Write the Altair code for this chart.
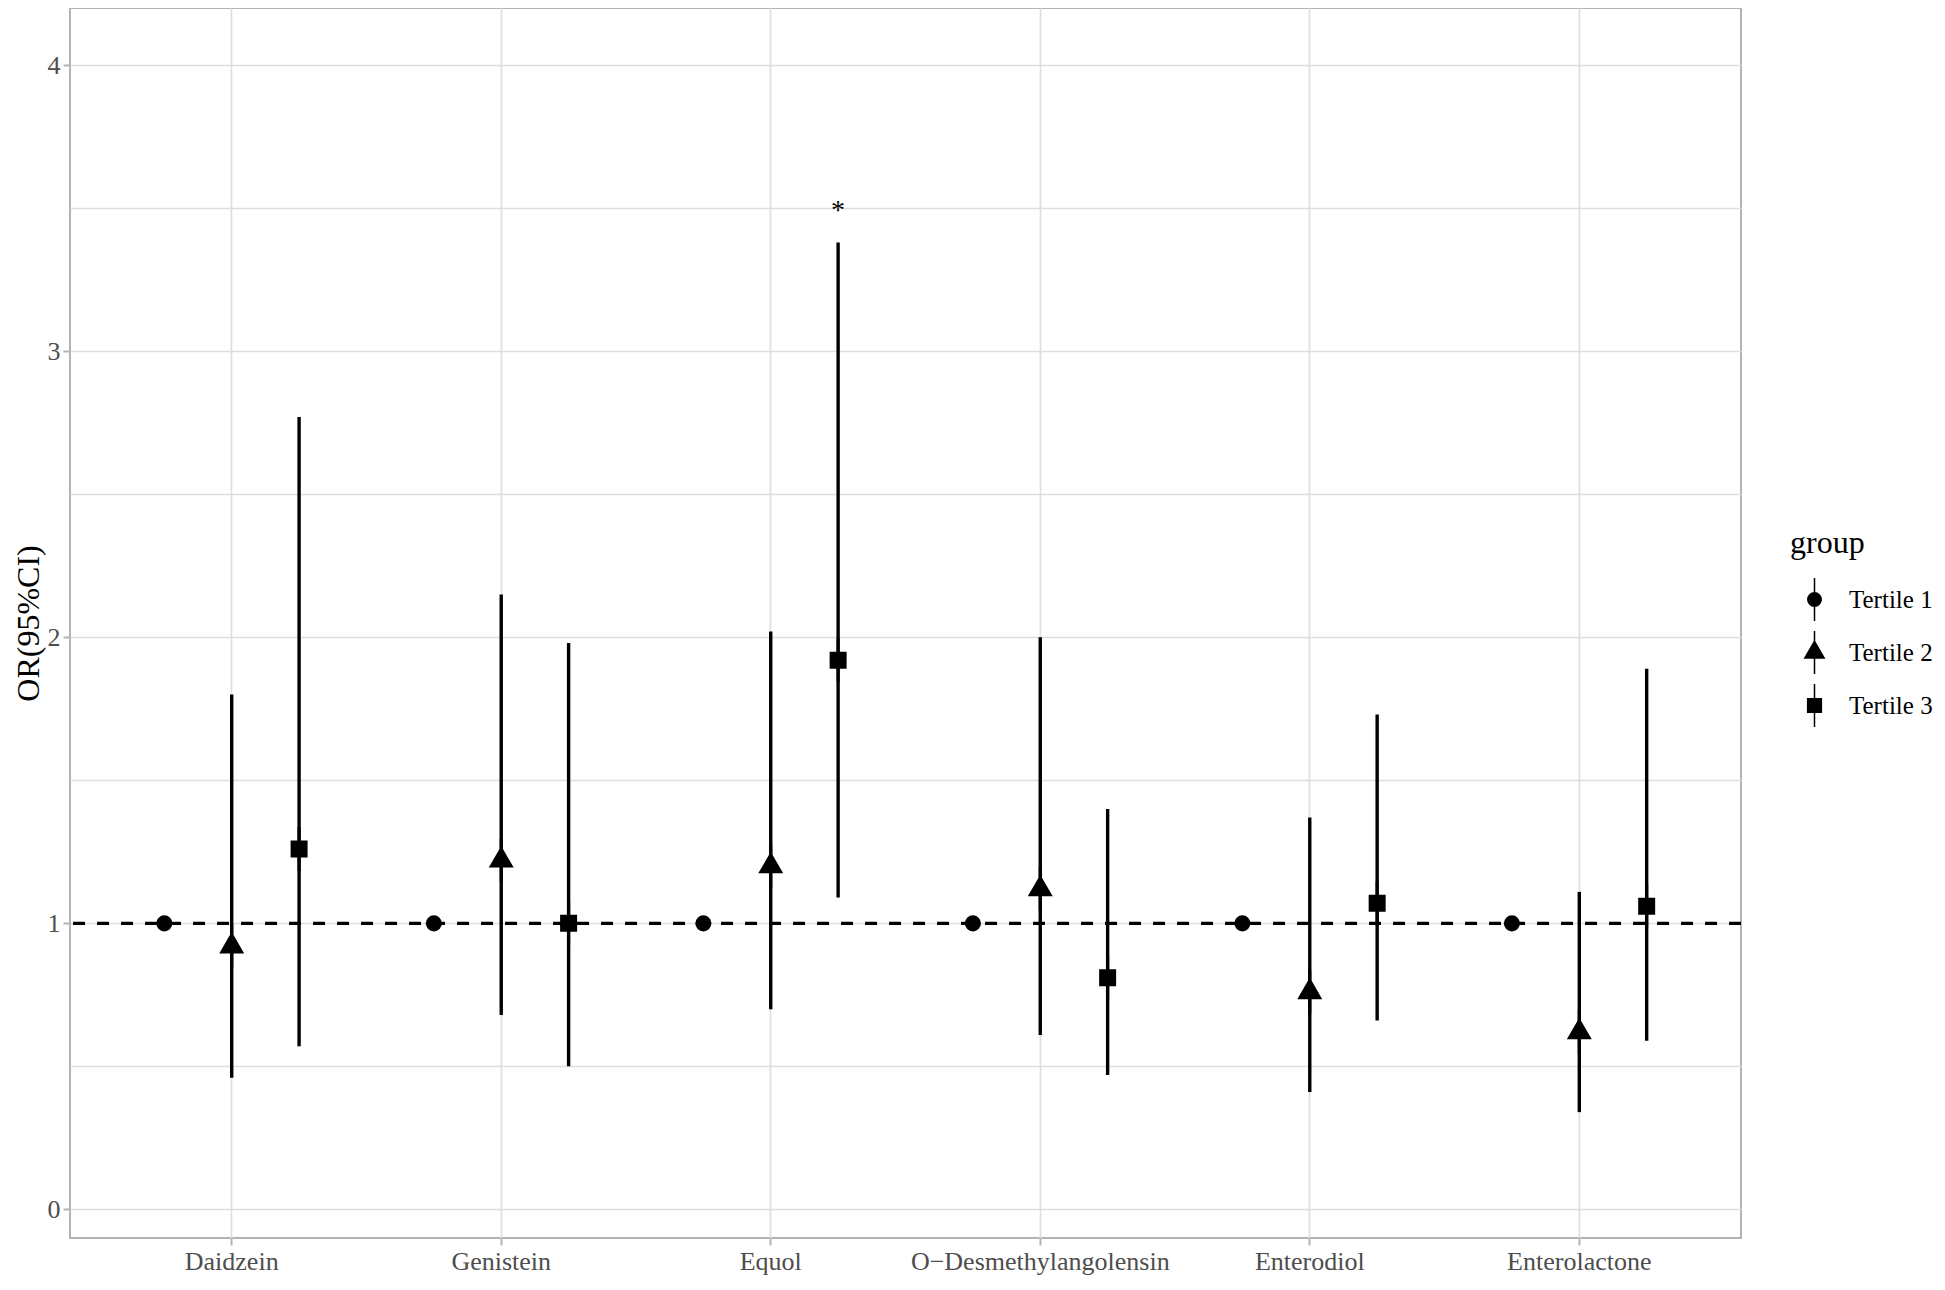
import altair as alt
import pandas as pd

# ---- data ----
compounds = ["Daidzein", "Genistein", "Equol", "O\u2212Desmethylangolensin", "Enterodiol", "Enterolactone"]
groups = ["Tertile 1", "Tertile 2", "Tertile 3"]

t1_or = [1.0, 1.0, 1.0, 1.0, 1.0, 1.0]

t2_or = [0.92, 1.22, 1.20, 1.12, 0.76, 0.62]
t2_lo = [0.46, 0.68, 0.70, 0.61, 0.41, 0.34]
t2_hi = [1.80, 2.15, 2.02, 2.00, 1.37, 1.11]

t3_or = [1.26, 1.00, 1.92, 0.81, 1.07, 1.06]
t3_lo = [0.57, 0.50, 1.09, 0.47, 0.66, 0.59]
t3_hi = [2.77, 1.98, 3.38, 1.40, 1.73, 1.89]

ref_line = [1.0]

annot_compound = ["Equol"]
annot_group = ["Tertile 3"]
annot_y = [3.49]
annot_text = ["*"]

y_ticks = [0, 0.5, 1, 1.5, 2, 2.5, 3, 3.5, 4]

# ---- tables ----
rows = []
for i, c in enumerate(compounds):
    rows.append(dict(compound=c, group=groups[0], OR=t1_or[i], lo=None, hi=None))
    rows.append(dict(compound=c, group=groups[1], OR=t2_or[i], lo=t2_lo[i], hi=t2_hi[i]))
    rows.append(dict(compound=c, group=groups[2], OR=t3_or[i], lo=t3_lo[i], hi=t3_hi[i]))
df = pd.DataFrame(rows)
df_ref = pd.DataFrame({"ref": ref_line})
df_ann = pd.DataFrame({"compound": annot_compound, "group": annot_group,
                       "y": annot_y, "txt": annot_text})

FONT = "Liberation Serif"

# pointrange-like symbols (shape + vertical stroke), used for T2/T3 and the legend
vline = " M 0 -3.2 L 0 3.2"
circle_path = "M -1 0 A 1 1 0 1 1 1 0 A 1 1 0 1 1 -1 0 Z" + vline
tri_path = "M 0 -1.66 L 1.44 0.83 L -1.44 0.83 Z" + vline
sq_path = "M -1.02 -1.02 L 1.02 -1.02 L 1.02 1.02 L -1.02 1.02 Z" + vline

x_enc = alt.X("compound:N", sort=compounds,
              scale=alt.Scale(type="band", domain=compounds, paddingInner=0, paddingOuter=0.1),
              axis=alt.Axis(title=None, grid=True, labelAngle=0, labelPadding=3, labelLimit=500))
xoff_enc = alt.XOffset("group:N", scale=alt.Scale(type="point", domain=groups, padding=2))
y_scale = alt.Scale(domain=[-0.1, 4.2], nice=False, zero=False)
y_axis = alt.Axis(title="OR(95%CI)", values=y_ticks, grid=True,
                  labelExpr="datum.value % 1 ? '' : format(datum.value, 'd')",
                  tickOpacity={"condition": {"test": "datum.value % 1 !== 0", "value": 0}, "value": 1},
                  labelPadding=3, titlePadding=2)

base = alt.Chart(df)

hline = alt.Chart(df_ref).mark_rule(color="black", strokeWidth=3.3, strokeDash=[12, 12]).encode(
    y=alt.Y("ref:Q", scale=y_scale, axis=y_axis)
)

bars = base.transform_filter("datum.lo != null").mark_rule(color="black", strokeWidth=3.4).encode(
    x=x_enc, xOffset=xoff_enc,
    y=alt.Y("lo:Q", scale=y_scale, axis=y_axis), y2="hi:Q"
)

pts = base.transform_filter("datum.lo != null").mark_point(
    filled=True, color="black", stroke="black", strokeWidth=3, opacity=1, size=188
).encode(
    x=x_enc, xOffset=xoff_enc,
    y=alt.Y("OR:Q", scale=y_scale, axis=y_axis),
    shape=alt.Shape("group:N", scale=alt.Scale(domain=groups, range=[circle_path, tri_path, sq_path]),
                    legend=alt.Legend(title="group", orient="none", legendX=1720, legendY=520,
                                      symbolSize=180, symbolOffset=12, labelOffset=22,
                                      titlePadding=27, rowPadding=4))
)

ref_pts = base.transform_filter("datum.lo == null").mark_point(
    filled=True, color="black", shape="circle", size=260, opacity=1
).encode(
    x=x_enc, xOffset=xoff_enc,
    y=alt.Y("OR:Q", scale=y_scale, axis=y_axis)
)

star = alt.Chart(df_ann).mark_text(font=FONT, fontSize=28, color="black", baseline="middle").encode(
    x=x_enc, xOffset=xoff_enc,
    y=alt.Y("y:Q", scale=y_scale, axis=y_axis),
    text="txt:N"
)

chart = alt.layer(hline, bars, ref_pts, pts, star).properties(
    width=1671, height=1230,
    autosize=alt.AutoSizeParams(type="none"),
    padding={"left": 62, "top": 0, "right": 196, "bottom": 40}
).configure_view(
    stroke="#b3b3b3", strokeWidth=2
).configure_axis(
    domain=False, gridColor="#dedede", gridWidth=1.7,
    tickColor="#b3b3b3", tickWidth=2, tickSize=7,
    labelFont=FONT, labelFontSize=26, labelColor="#4d4d4d",
    titleFont=FONT, titleFontSize=32, titleFontWeight="normal", titleColor="black"
).configure_legend(
    titleFont=FONT, titleFontSize=32, titleFontWeight="normal", titleColor="black",
    labelFont=FONT, labelFontSize=25, labelColor="black", padding=0
)

chart.save("out.html", embed_options={"renderer": "svg", "actions": False})
